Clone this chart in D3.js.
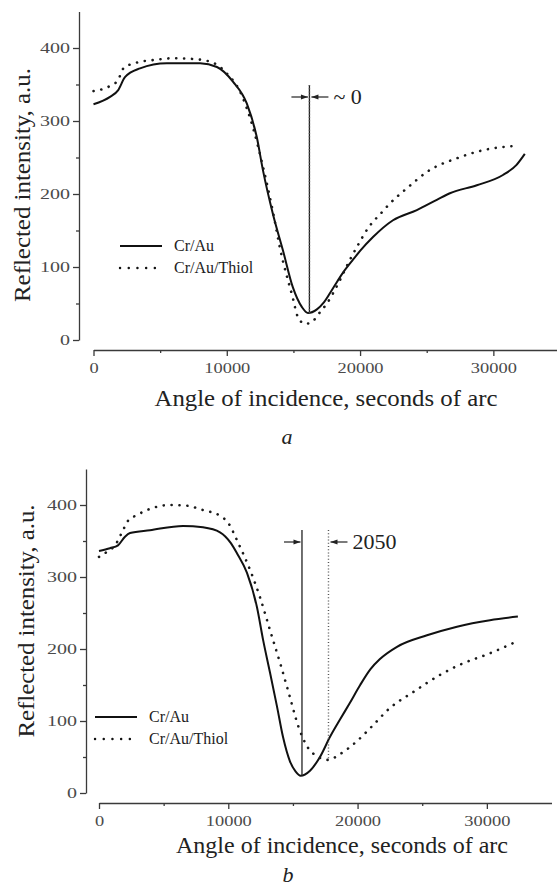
<!DOCTYPE html>
<html lang="en">
<head>
  <meta charset="utf-8">
  <title>SPR reflectivity curves</title>
  <script src="https://d3js.org/d3.v7.min.js"></script>
  <style>
    body { margin: 0; background: #fff; }
    svg { display: block; }
    text { font-family: "Liberation Serif", "DejaVu Serif", serif; fill: #222; }
    .axis path, .axis line { stroke: #3a3a3a; stroke-width: 1.3px; }
  </style>
</head>
<body>
<div id="chart"></div>
<script>
  // ---- data ----
  const xTicks = [0, 10000, 20000, 30000];
  const xMinor = [5000, 15000, 25000];
  const yTicks = [0, 100, 200, 300, 400];
  const yMinor = [50, 150, 250, 350];
  const seriesNames = ["Cr/Au", "Cr/Au/Thiol"];

  // panel a
  const aAuAngle = [0, 1240, 1840, 2360, 3490, 5500, 8000, 9260, 10460, 11500, 12250, 12720, 13470, 14210, 14960, 15640, 16090, 16760, 17300, 17970, 18710, 19470, 20000, 20970, 22470, 24260, 25760, 26740, 28760, 30720, 31740, 32360];
  const aAuValue = [323, 333, 342, 360, 372, 379, 379, 374, 354, 324, 278, 232, 172, 123, 72, 45, 37, 42, 52, 71, 92, 110, 122, 141, 164, 178, 192, 201, 212, 226, 240, 255];
  const aThiolAngle = [0, 1240, 1840, 2240, 3240, 4760, 5990, 8000, 9260, 10010, 11000, 11980, 12720, 13470, 14000, 14990, 15300, 15870, 16460, 16990, 17510, 18490, 19240, 19840, 20590, 21640, 22240, 23520, 25250, 27270, 29230, 31760];
  const aThiolValue = [341, 348, 356, 372, 380, 384, 386, 384, 377, 365, 340, 290, 237, 175, 125, 55, 33, 22, 26, 38, 50, 82, 110, 130, 153, 175, 187, 208, 233, 249, 260, 266];
  const aMarkAngle = 16200;
  const aMarkText = "~ 0";

  // panel b
  const bAuAngle = [0, 850, 1470, 2010, 2400, 3940, 6500, 8040, 9360, 10200, 10700, 11440, 12220, 12700, 13230, 13770, 14230, 14770, 15200, 15600, 16320, 17090, 17870, 18640, 19400, 20200, 21000, 21730, 23050, 25370, 27690, 30240, 32400];
  const bAuValue = [336, 340, 344, 356, 361, 365, 371, 369, 362, 347, 332, 306, 258, 212, 167, 120, 78, 44, 30, 24, 31, 50, 78, 102, 125, 150, 172, 186, 203, 219, 231, 240, 245];
  const bThiolAngle = [0, 620, 1240, 1860, 2240, 2940, 4180, 5490, 6800, 8040, 9360, 10000, 10750, 11680, 12450, 13230, 14000, 14770, 15390, 16090, 16860, 17710, 18640, 19950, 21190, 22500, 24290, 26370, 28150, 30240, 32020];
  const bThiolValue = [328, 335, 344, 365, 378, 386, 396, 400, 399, 393, 385, 375, 348, 310, 272, 226, 181, 133, 94, 65, 51, 46, 54, 72, 94, 118, 140, 164, 180, 194, 208];
  const bMarkAuAngle = 15700;
  const bMarkThiolAngle = 17750;
  const bMarkText = "2050";

  const W = 557, H = 886;
  const svg = d3.select("#chart").append("svg").attr("width", W).attr("height", H);

  const zip = (xs, ys) => xs.map((x, i) => ({ x, y: ys[i] }));
  const DOTS = "0.1,7.8";

  function styleTicks(sel, perChar) {
    sel.selectAll("text")
      .style("font-family", "'Liberation Serif', serif")
      .style("font-size", "15px")
      .style("fill", "#4a4a4a")
      .attr("textLength", d => String(d).length * perChar)
      .attr("lengthAdjust", "spacingAndGlyphs");
  }

  function drawPanel(p) {
    const x = d3.scaleLinear().domain([0, 35000]).range([p.x0, p.x1]);
    const y = d3.scaleLinear().domain([0, 450]).range([p.y0, p.y1]);
    const g = svg.append("g");

    // y axis
    g.append("g").attr("class", "axis")
      .attr("transform", `translate(${p.yAxisX},0)`)
      .call(d3.axisLeft(y).tickValues(yTicks).tickSize(6).tickSizeOuter(0).tickPadding(3).tickFormat(d3.format("d")))
      .call(s => styleTicks(s, 10));
    g.append("g").attr("class", "axis")
      .attr("transform", `translate(${p.yAxisX},0)`)
      .call(d3.axisLeft(y).tickValues(yMinor).tickSize(3).tickSizeOuter(0).tickFormat(""))
      .select(".domain").remove();

    // x axis
    g.append("g").attr("class", "axis")
      .attr("transform", `translate(0,${p.xAxisY})`)
      .call(d3.axisBottom(x).tickValues(xTicks).tickSize(6).tickSizeOuter(0).tickPadding(6).tickFormat(d3.format("d")))
      .call(s => styleTicks(s, 9.2));
    g.append("g").attr("class", "axis")
      .attr("transform", `translate(0,${p.xAxisY})`)
      .call(d3.axisBottom(x).tickValues(xMinor).tickSize(3).tickSizeOuter(0).tickFormat(""))
      .select(".domain").remove();

    // curves
    const line = d3.line().x(d => x(d.x)).y(d => y(d.y)).curve(d3.curveMonotoneX);
    g.append("path").datum(zip(p.auX, p.auY))
      .attr("d", line).attr("fill", "none").attr("stroke", "#111").attr("stroke-width", 2);
    g.append("path").datum(zip(p.thX, p.thY))
      .attr("d", line).attr("fill", "none").attr("stroke", "#1a1a1a").attr("stroke-width", 2.6)
      .attr("stroke-linecap", "round").attr("stroke-dasharray", DOTS);

    // marker lines
    p.marks.forEach(m => {
      const ln = g.append("line")
        .attr("x1", x(m.x)).attr("x2", x(m.x))
        .attr("y1", p.markTop).attr("y2", y(m.bottom))
        .attr("stroke", m.dotted ? "#555" : "#222").attr("stroke-width", m.dotted ? 1.4 : 1.3);
      if (m.dotted) ln.attr("stroke-dasharray", "1,2.2");
    });

    // arrows
    const ay = p.markArrowY;
    const arrow = (from, to) => {
      g.append("line").attr("x1", from).attr("x2", to).attr("y1", ay).attr("y2", ay)
        .attr("stroke", "#222").attr("stroke-width", 1.2);
      const dir = Math.sign(to - from);
      g.append("path")
        .attr("d", `M${to},${ay} L${to - dir * 7},${ay - 2.6} L${to - dir * 7},${ay + 2.6} Z`)
        .attr("fill", "#222");
    };
    arrow(x(p.marks[0].x) - 18, x(p.marks[0].x) - 1.5);
    const lastX = x(p.marks[p.marks.length - 1].x);
    arrow(lastX + 19, lastX + 2);
    g.append("text").attr("x", lastX + 24).attr("y", ay + 7)
      .style("font-size", "22px").text(p.markText);

    // legend
    seriesNames.forEach((name, i) => {
      const ly = p.legY + i * 22;
      const l = g.append("line").attr("x1", p.legX).attr("x2", p.legX + 42)
        .attr("y1", ly).attr("y2", ly).attr("stroke", "#111").attr("stroke-width", 2);
      if (i === 1) l.attr("stroke-dasharray", "0.1,8.6").attr("stroke-linecap", "round").attr("stroke-width", 2.4);
      g.append("text").attr("x", p.legX + 54).attr("y", ly + 5)
        .style("font-size", "16px").text(name);
    });

    // axis titles
    g.append("text")
      .attr("transform", `translate(${p.yTitleX},${p.yTitleY}) rotate(-90)`)
      .attr("text-anchor", "middle").attr("dominant-baseline", "central")
      .attr("textLength", p.yTitleLen).attr("lengthAdjust", "spacingAndGlyphs")
      .style("font-size", "23px").text("Reflected intensity, a.u.");
    g.append("text").attr("x", p.xTitleX).attr("y", p.xTitleY)
      .attr("text-anchor", "middle").style("font-size", "23px")
      .attr("textLength", p.xTitleLen).attr("lengthAdjust", "spacingAndGlyphs")
      .text("Angle of incidence, seconds of arc");
    g.append("text").attr("x", p.capX).attr("y", p.capY)
      .attr("text-anchor", "middle").style("font-size", "22px").style("font-style", "italic")
      .text(p.caption);
  }

  drawPanel({
    x0: 93.5, x1: 560, y0: 340, y1: 11.5, yAxisX: 79, xAxisY: 350,
    auX: aAuAngle, auY: aAuValue, thX: aThiolAngle, thY: aThiolValue,
    marks: [{ x: aMarkAngle, bottom: 37, dotted: false }, { x: aMarkAngle, bottom: 37, dotted: true }],
    markTop: 85, markArrowY: 97, markText: aMarkText,
    legX: 120, legY: 246,
    yTitleX: 22, yTitleY: 185, yTitleLen: 234,
    xTitleX: 326, xTitleY: 406, xTitleLen: 343,
    capX: 287, capY: 444, caption: "a"
  });

  drawPanel({
    x0: 99, x1: 551.5, y0: 793, y1: 469, yAxisX: 86, xAxisY: 803,
    auX: bAuAngle, auY: bAuValue, thX: bThiolAngle, thY: bThiolValue,
    marks: [{ x: bMarkAuAngle, bottom: 24, dotted: false }, { x: bMarkThiolAngle, bottom: 46, dotted: true }],
    markTop: 530, markArrowY: 542, markText: bMarkText,
    legX: 95, legY: 717,
    yTitleX: 26, yTitleY: 621, yTitleLen: 233,
    xTitleX: 342, xTitleY: 853, xTitleLen: 332,
    capX: 288, capY: 882, caption: "b"
  });
</script>
</body>
</html>
